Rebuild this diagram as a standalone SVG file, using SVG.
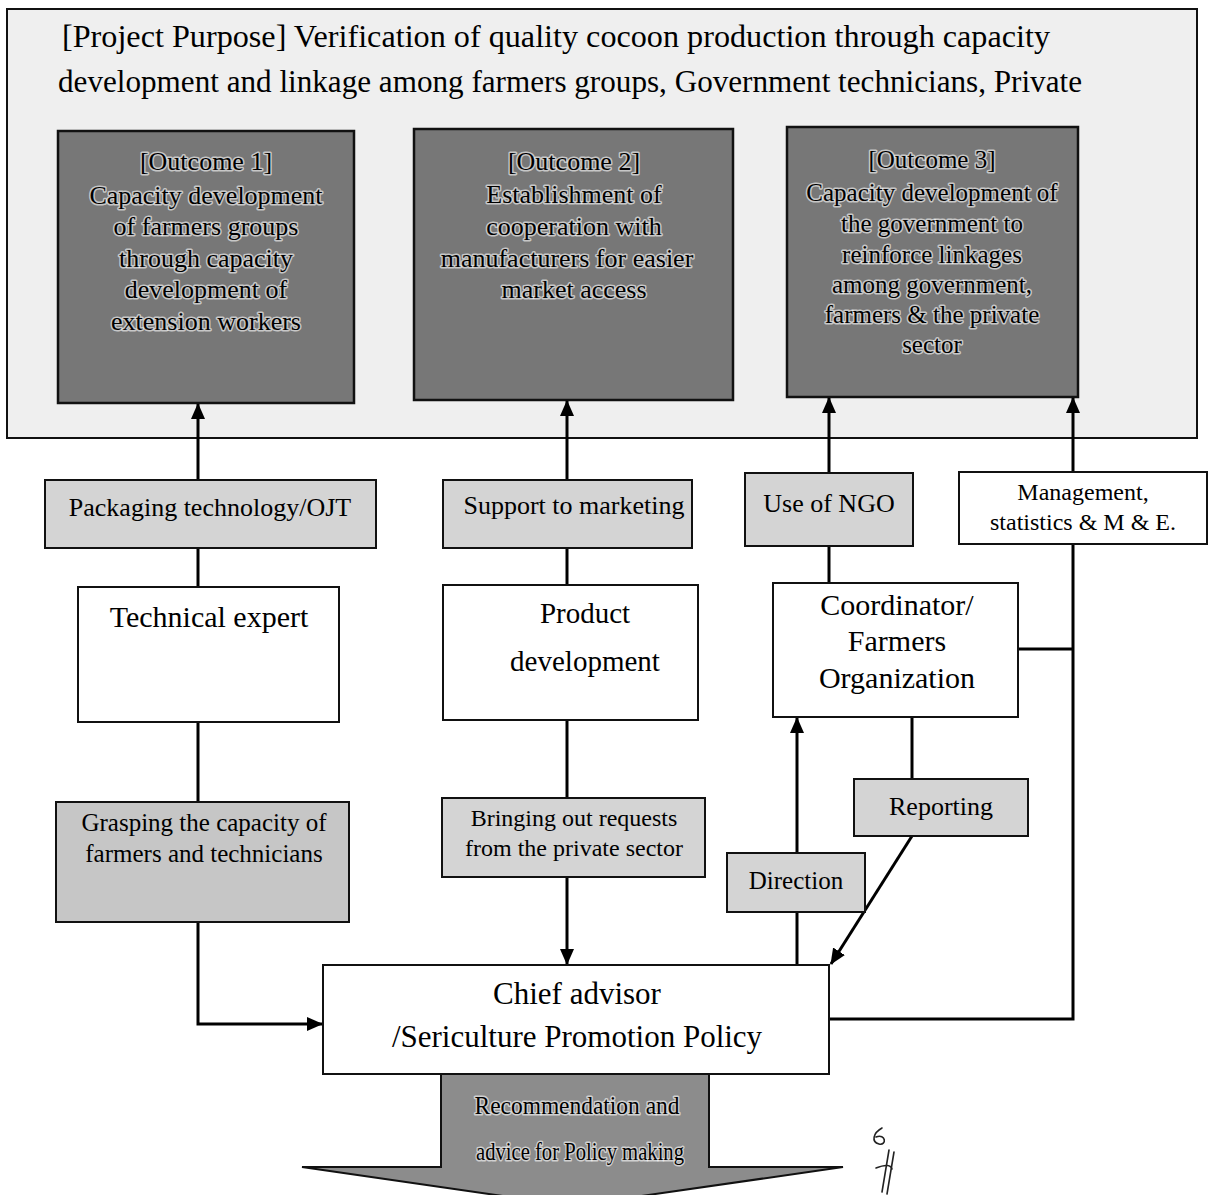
<svg xmlns="http://www.w3.org/2000/svg" width="1215" height="1195" viewBox="0 0 1215 1195">
<style>
 .t{font-family:"Liberation Serif","Times New Roman",serif;fill:#000;text-anchor:middle}
 .box{fill:#fff;stroke:#111;stroke-width:2}
 .lbl{fill:#d4d4d4;stroke:#111;stroke-width:2}
 .lbl2{fill:#c6c6c6;stroke:#111;stroke-width:2}
 .out{fill:#777;stroke:#111;stroke-width:2.5}
 .halo{stroke:#fff;stroke-width:3;stroke-opacity:.6;paint-order:stroke;stroke-linejoin:round}
 .c{fill:none;stroke:#000;stroke-width:3}
</style>
<defs>
 <marker id="ah" markerUnits="userSpaceOnUse" markerWidth="16" markerHeight="16" viewBox="0 0 16 16" refX="15" refY="8" orient="auto">
  <path d="M0,1 L16,8 L0,15 z" fill="#000"/>
 </marker>
</defs>
<rect width="1215" height="1195" fill="#fff"/>

<g id="project-purpose">
 <rect x="7" y="9" width="1190" height="429" fill="#efefef" stroke="#111" stroke-width="2"/>
 <text class="t" x="556" y="47" font-size="31" textLength="988" lengthAdjust="spacingAndGlyphs">[Project Purpose] Verification of quality cocoon production through capacity</text>
 <text class="t" x="570" y="92" font-size="31" textLength="1024" lengthAdjust="spacingAndGlyphs">development and linkage among farmers groups, Government technicians, Private</text>
</g>

<g id="outcome1">
 <rect class="out" x="58" y="131" width="296" height="272"/>
 <g class="t halo" font-size="26">
  <text x="206" y="170">[Outcome 1]</text>
  <text x="206" y="204">Capacity development</text>
  <text x="206" y="235">of farmers groups</text>
  <text x="206" y="267">through capacity</text>
  <text x="206" y="298">development of</text>
  <text x="206" y="330">extension workers</text>
 </g>
</g>

<g id="outcome2">
 <rect class="out" x="414" y="129" width="319" height="271"/>
 <g class="t halo" font-size="26">
  <text x="574" y="170">[Outcome 2]</text>
  <text x="574" y="203">Establishment of</text>
  <text x="574" y="235">cooperation with</text>
  <text x="567" y="267">manufacturers for easier</text>
  <text x="574" y="298">market access</text>
 </g>
</g>

<g id="outcome3">
 <rect class="out" x="787" y="127" width="291" height="270"/>
 <g class="t halo" font-size="25">
  <text x="932" y="168">[Outcome 3]</text>
  <text x="932" y="201">Capacity development of</text>
  <text x="932" y="232">the government to</text>
  <text x="932" y="263">reinforce linkages</text>
  <text x="932" y="293">among government,</text>
  <text x="932" y="323">farmers &amp; the private</text>
  <text x="932" y="353">sector</text>
 </g>
</g>

<g id="connectors">
 <path class="c" d="M198,587 V404" marker-end="url(#ah)"/>
 <path class="c" d="M567,585 V401" marker-end="url(#ah)"/>
 <path class="c" d="M829,583 V398" marker-end="url(#ah)"/>
 <path class="c" d="M1073,472 V398" marker-end="url(#ah)"/>
 <path class="c" d="M198,722 V1024 H322" marker-end="url(#ah)"/>
 <path class="c" d="M567,720 V964" marker-end="url(#ah)"/>
 <path class="c" d="M1073,544 V1019 H830"/>
 <path class="c" d="M1018,649 H1073"/>
 <path class="c" d="M797,964 V718" marker-end="url(#ah)"/>
 <path class="c" d="M912,717 V779"/>
 <path class="c" d="M912,836 L831,964" marker-end="url(#ah)"/>
</g>

<g id="label-packaging">
 <rect class="lbl" x="45" y="480" width="331" height="68"/>
 <text class="t" x="210" y="516" font-size="26">Packaging technology/OJT</text>
</g>
<g id="label-marketing">
 <rect class="lbl" x="443" y="480" width="249" height="68"/>
 <text class="t" x="574" y="514" font-size="26">Support to marketing</text>
</g>
<g id="label-ngo">
 <rect class="lbl" x="745" y="473" width="168" height="73"/>
 <text class="t" x="829" y="512" font-size="26">Use of NGO</text>
</g>
<g id="label-management">
 <rect class="box" x="959" y="472" width="248" height="72" fill="#f2f2f2"/>
 <text class="t" x="1083" y="500" font-size="24">Management,</text>
 <text class="t" x="1083" y="530" font-size="24">statistics &amp; M &amp; E.</text>
</g>

<g id="technical-expert">
 <rect class="box" x="78" y="587" width="261" height="135"/>
 <text class="t" x="209" y="627" font-size="30">Technical expert</text>
</g>
<g id="product-development">
 <rect class="box" x="443" y="585" width="255" height="135"/>
 <text class="t" x="585" y="623" font-size="29">Product</text>
 <text class="t" x="585" y="671" font-size="29">development</text>
</g>
<g id="coordinator">
 <rect class="box" x="773" y="583" width="245" height="134"/>
 <text class="t" x="897" y="615" font-size="30">Coordinator/</text>
 <text class="t" x="897" y="651" font-size="30">Farmers</text>
 <text class="t" x="897" y="688" font-size="30">Organization</text>
</g>

<g id="label-grasping">
 <rect class="lbl2" x="56" y="802" width="293" height="120"/>
 <text class="t" x="204" y="831" font-size="25">Grasping the capacity of</text>
 <text class="t" x="204" y="862" font-size="25">farmers and technicians</text>
</g>
<g id="label-bringing">
 <rect class="lbl" x="442" y="798" width="263" height="79"/>
 <text class="t" x="574" y="826" font-size="24">Bringing out requests</text>
 <text class="t" x="574" y="856" font-size="24">from the private sector</text>
</g>
<g id="label-reporting">
 <rect class="lbl" x="854" y="779" width="174" height="57"/>
 <text class="t" x="941" y="815" font-size="26">Reporting</text>
</g>
<g id="label-direction">
 <rect class="lbl" x="727" y="853" width="138" height="59"/>
 <text class="t" x="796" y="889" font-size="25">Direction</text>
</g>

<g id="policy-arrow">
 <polygon points="441,1074 709,1074 709,1167 843,1167 572,1206 302,1167 441,1167" fill="#8c8c8c" stroke="#111" stroke-width="2"/>
 <g class="t halo" font-size="25">
  <text x="577" y="1114" textLength="205" lengthAdjust="spacingAndGlyphs">Recommendation and</text>
  <text x="580" y="1160" textLength="208" lengthAdjust="spacingAndGlyphs">advice for Policy making</text>
 </g>
</g>

<g id="chief-advisor">
 <rect class="box" x="323" y="965" width="506" height="109"/>
 <text class="t" x="577" y="1004" font-size="31">Chief advisor</text>
 <text class="t" x="577" y="1047" font-size="31">/Sericulture Promotion Policy</text>
</g>

<g id="handwritten-mark" fill="none" stroke="#222" stroke-width="1.6" stroke-linecap="round">
 <path d="M882,1128 c-9,5 -11,14 -3,16 c8,2 7,-11 -3,-7"/>
 <path d="M889,1150 l-7,42"/>
 <path d="M894,1152 l-7,42"/>
 <path d="M876,1168 c10,-4 15,-3 16,1"/>
</g>
</svg>
